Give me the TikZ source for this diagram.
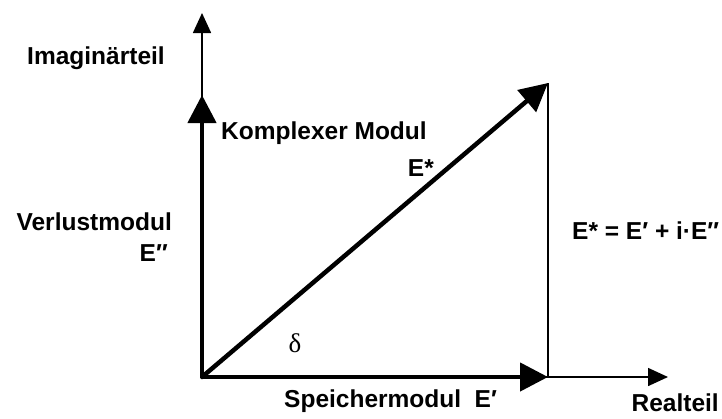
\documentclass[tikz,border=0pt]{standalone}
\usepackage{fontspec}
\setmainfont{Liberation Sans}
\newfontfamily\grk{Liberation Serif}
\usetikzlibrary{arrows.meta}
\tikzset{
  lbl/.style={font=\fontsize{24.5}{28}\selectfont\bfseries, inner sep=0pt},
  axis/.style={line width=1.6pt, -{Triangle[length=20pt,width=18pt]}},
  vec/.style={line width=4.5pt, -{Triangle[length=28pt,width=28pt]}},
  thin/.style={line width=1.6pt},
}
\begin{document}
\begin{tikzpicture}[x=1pt,y=-1pt]
  \useasboundingbox (0,0) rectangle (722,418);
  \coordinate (O) at (202,377);
  \coordinate (Ytip) at (202,13);
  \coordinate (Xtip) at (668,377);
  \coordinate (V) at (202,95);
  \coordinate (H) at (548,377);
  \coordinate (T) at (548,83);
  % axes
  \draw[axis] (O) -- (Ytip);
  \draw[axis] (O) -- (Xtip);
  % projection line
  \draw[thin] (H) -- (T);
  % vectors
  \draw[vec, line cap=round] (O) -- (V);
  \draw[vec] (O) -- (H);
  \draw[vec] (O) -- (T);
  % labels
  \node[lbl, anchor=center] (im) at (96,58) {Imaginärteil};
  \node[lbl, anchor=west] (km) at (221,133) {Komplexer Modul};
  \node[lbl, anchor=east] (es) at (434,168) {E*};
  \node[lbl, anchor=east] (vm) at (172,222) {Verlustmodul};
  \node[lbl, anchor=east] (e2) at (168,253) {E″};
  \node[inner sep=0pt] (d) at (295,343) {\grk\fontsize{27}{29}\selectfont δ};
  \node[lbl, anchor=west] (sm) at (284,401) {Speichermodul\hspace{0.55em}E′};
  \node[lbl, anchor=east] (re) at (719,403) {Realteil};
  \node[lbl, anchor=west] (eq) at (572,231) {E* = E′ + i·E″};
\end{tikzpicture}
\end{document}
